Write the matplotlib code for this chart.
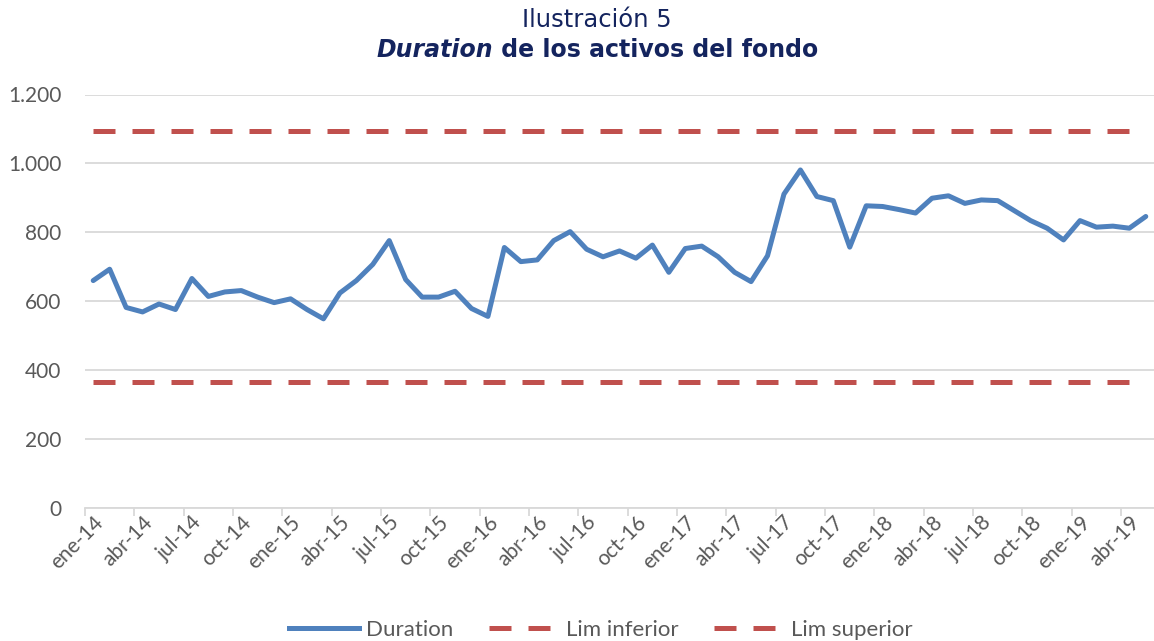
import matplotlib
matplotlib.use('Agg')
import matplotlib.pyplot as plt
from matplotlib.ticker import FuncFormatter, FixedLocator
from matplotlib.lines import Line2D

# Monthly duration (days), ene-14 .. may-19
duration = [660, 693, 582, 569, 592, 576, 666, 614, 627, 631, 612, 596,
            607, 576, 549, 624, 660, 707, 776, 663, 612, 612, 629, 579,
            556, 756, 715, 720, 776, 802, 751, 729, 746, 725, 763, 684,
            753, 760, 729, 684, 657, 732, 911, 981, 904, 892, 757, 877,
            875, 866, 856, 899, 906, 884, 894, 892, 863, 834, 812, 778,
            834, 815, 818, 812, 846]
lim_inferior = 365
lim_superior = 1095
tick_labels = ['ene-14', 'abr-14', 'jul-14', 'oct-14', 'ene-15', 'abr-15',
               'jul-15', 'oct-15', 'ene-16', 'abr-16', 'jul-16', 'oct-16',
               'ene-17', 'abr-17', 'jul-17', 'oct-17', 'ene-18', 'abr-18',
               'jul-18', 'oct-18', 'ene-19', 'abr-19']
y_ticks = [0, 200, 400, 600, 800, 1000, 1200]

blue = '#4F81BD'
red = '#C0504D'
grid = '#D9D9D9'
txt = '#595959'
navy = '#14245E'
font = 'Lato'

W, H = 1154, 641
fig = plt.figure(figsize=(W / 100, H / 100), dpi=100)
fig.patch.set_facecolor('white')
ax = fig.add_axes([85 / W, (H - 508) / H, (W - 85) / W, (508 - 94.5) / H])

n = len(duration)
x = list(range(n))
dash = (4.4, 3.4)
ax.plot(x, [lim_inferior] * n, color=red, lw=3.6, dashes=dash, dash_capstyle='butt')
ax.plot(x, [lim_superior] * n, color=red, lw=3.6, dashes=dash, dash_capstyle='butt')
ax.plot(x, duration, color=blue, lw=3.6, solid_joinstyle='round', solid_capstyle='round')

ax.set_xlim(-0.5, n - 0.5)
ax.set_ylim(0, 1200)

ax.set_yticks(y_ticks)
ax.yaxis.set_major_formatter(FuncFormatter(lambda v, p: f'{int(v):,}'.replace(',', '.')))
ax.tick_params(axis='y', length=0, pad=17, labelsize=15, labelcolor=txt)
for lab in ax.get_yticklabels():
    lab.set_fontfamily(font)
ax.grid(axis='y', color=grid, lw=1.3)
ax.set_axisbelow(True)

ax.set_xticks(range(0, 3 * len(tick_labels), 3))
ax.set_xticklabels(tick_labels, rotation=45, ha='right', va='top',
                   rotation_mode='anchor', fontsize=15, color=txt, family=font)
ax.tick_params(axis='x', which='major', length=0, pad=3)
ax.xaxis.set_minor_locator(FixedLocator([i - 0.5 for i in range(0, n + 1, 3)]))
ax.tick_params(axis='x', which='minor', length=6, width=1.3, color=grid, direction='out')

for s in ['top', 'right', 'left']:
    ax.spines[s].set_visible(False)
ax.spines['bottom'].set_color(grid)
ax.spines['bottom'].set_linewidth(1.3)

# title, two lines; second line mixes bold italic + bold
cx = 597
fig.text(cx / W, 1 - 20 / H, 'Ilustración 5', ha='center', va='center',
         fontsize=17.5, color=navy, family='DejaVu Sans')
t1 = fig.text(0, 1 - 50 / H, 'Duration', ha='left', va='center', fontsize=17,
              color=navy, family='DejaVu Sans', fontweight='bold', style='italic')
t2 = fig.text(0, 1 - 50 / H, ' de los activos del fondo', ha='left', va='center',
              fontsize=17, color=navy, family='DejaVu Sans', fontweight='bold')
r = fig.canvas.get_renderer()
w1 = t1.get_window_extent(r).width
w2 = t2.get_window_extent(r).width
x0 = cx - (w1 + w2) / 2
t1.set_x(x0 / W)
t2.set_x((x0 + w1) / W)

handles = [Line2D([], [], color=blue, lw=3.6),
           Line2D([], [], color=red, lw=3.6, dashes=dash),
           Line2D([], [], color=red, lw=3.6, dashes=dash)]
leg = fig.legend(handles, ['Duration', 'Lim inferior', 'Lim superior'],
                 loc='center', bbox_to_anchor=(601 / W, 11 / H), ncol=3, frameon=False,
                 handlelength=3.15, handletextpad=0.32, columnspacing=1.6,
                 prop={'family': font, 'size': 16})
for t in leg.get_texts():
    t.set_color(txt)

fig.savefig('out.png', dpi=100, facecolor='white')
